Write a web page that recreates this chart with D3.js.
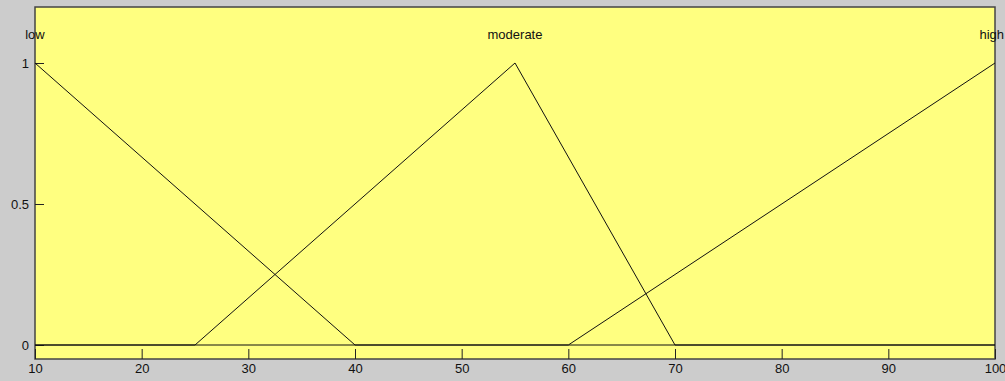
<!DOCTYPE html>
<html>
<head>
<meta charset="utf-8">
<script src="https://cdn.jsdelivr.net/npm/d3@7"></script>
<style>
  body { margin: 0; background: #cccccc; }
  svg { display: block; }
  text { font-family: "Liberation Sans", Arial, sans-serif; font-size: 13px; fill: #111; }
</style>
</head>
<body>
<div id="chart"></div>
<script>
// membership function names and their breakpoints (x, degree)
var mfNames = ["low", "moderate", "high"];
var mfLow = [[10, 1], [40, 0], [100, 0]];
var mfModerate = [[10, 0], [25, 0], [55, 1], [70, 0], [100, 0]];
var mfHigh = [[10, 0], [60, 0], [100, 1]];
var mfLabelX = [10, 55, 100];
var xTicks = [10, 20, 30, 40, 50, 60, 70, 80, 90, 100];
var yTicks = [0, 0.5, 1];

var width = 1005, height = 381;
var plot = {left: 35, right: 995, top: 7, bottom: 359};

var svg = d3.select("#chart").append("svg")
    .attr("width", width)
    .attr("height", height);

//Scales
var x = d3.scaleLinear().domain([10, 100]).range([plot.left, plot.right]);
var y = d3.scaleLinear().domain([0, 1]).range([345, 63]);

//Plot area
svg.append("rect")
    .attr("x", plot.left)
    .attr("y", plot.top)
    .attr("width", plot.right - plot.left)
    .attr("height", plot.bottom - plot.top)
    .attr("fill", "#ffff80")
    .attr("stroke", "#444")
    .attr("stroke-width", 1.5);

//Axes with inward ticks
var xAxis = d3.axisBottom(x).tickValues(xTicks).tickSize(0).tickPadding(4).tickFormat(d3.format("d"));
var gx = svg.append("g").attr("transform", "translate(0," + plot.bottom + ")").call(xAxis);
gx.select(".domain").remove();
gx.selectAll(".tick text").attr("dy", "0.8em");
gx.selectAll(".tick").append("line")
    .attr("y1", 0).attr("y2", -10)
    .attr("stroke", "#222");

var yAxis = d3.axisLeft(y).tickValues(yTicks).tickSize(0).tickPadding(6).tickFormat(function(d) { return d; });
var gy = svg.append("g").attr("transform", "translate(" + plot.left + ",0)").call(yAxis);
gy.select(".domain").remove();
gy.selectAll(".tick").append("line")
    .attr("x1", 0).attr("x2", 9)
    .attr("stroke", "#222");
svg.selectAll(".tick text").style("font-size", "13px").attr("fill", "#111");

//Membership functions
var line = d3.line().x(function(d) { return x(d[0]); }).y(function(d) { return y(d[1]); });
[mfLow, mfModerate, mfHigh].forEach(function(mf) {
    svg.append("path")
        .attr("d", line(mf))
        .attr("fill", "none")
        .attr("stroke", "#111")
        .attr("stroke-width", 1);
});

//Labels (kept inside the window)
mfNames.forEach(function(name, i) {
    var t = svg.append("text")
        .attr("x", x(mfLabelX[i]))
        .attr("y", y(1.1))
        .attr("text-anchor", "middle")
        .attr("dy", "0.35em")
        .text(name);
    var w = t.node().getComputedTextLength();
    var cx = Math.min(x(mfLabelX[i]), width - 1 - w / 2);
    t.attr("x", cx);
});
</script>
</body>
</html>
